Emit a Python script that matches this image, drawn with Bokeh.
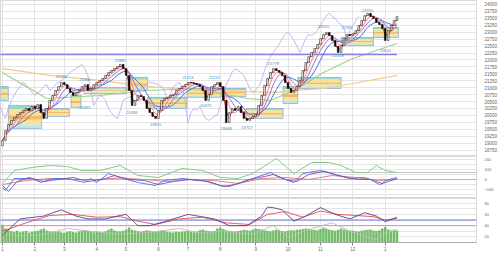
import numpy as np
import pandas as pd
from bokeh.plotting import figure
from bokeh.layouts import column
from bokeh.models import Range1d, FixedTicker, ColumnDataSource
from bokeh.embed import file_html
from bokeh.resources import INLINE
from bokeh.core.properties import value

# ---------------- data ----------------
month_labels = ["1", "2", "3", "4", "5", "6", "7", "8", "9", "10", "11", "12", "1"]
month_pos = [0, 11, 21, 32, 42, 53, 63, 74, 86, 97, 108, 119, 130]

close = [19090, 19450, 19670, 19820, 19920, 20030, 20100, 20180, 20250, 20170,
         20320, 20250, 20390, 20100, 19890, 20250, 20540, 20720, 20900, 21040,
         21190, 21110, 20970, 20830, 20720, 20820, 20900, 21040, 21110, 20900,
         20970, 21110, 21190, 21260, 21330, 21440, 21550, 21620, 21690, 21760,
         21840, 21690, 21440, 20900, 20360, 20540, 20720, 20680, 20540, 20250,
         20100, 19960, 19890, 20180, 20540, 20610, 20650, 20720, 20750, 20900,
         20970, 21040, 21110, 21190, 21180, 21150, 21110, 21040, 20900, 20540,
         20750, 21040, 21110, 21190, 21040, 20540, 19740, 20100, 20250, 20180,
         20320, 20100, 19890, 19820, 19890, 19960, 20030, 20360, 20720, 21080,
         21330, 21550, 21690, 21620, 21550, 21440, 21190, 20970, 20830, 20900,
         21040, 21260, 21620, 21910, 22120, 22270, 22410, 22560, 22770, 22920,
         22990, 22880, 22700, 22490, 22270, 22520, 22770, 22920, 22880, 22950,
         23060, 23240, 23420, 23600, 23680, 23570, 23500, 23350, 23280, 23130,
         22700, 23060, 23240, 23420, 23570]
first_open = 18900

volume = [190, 150, 130, 120, 115, 125, 110, 118, 122, 108, 115, 120, 125, 140, 150, 128, 120, 115, 112, 118,
          110, 105, 115, 120, 112, 108, 118, 125, 130, 122, 115, 110, 118, 112, 108, 120, 135, 150, 128, 120,
          118, 125, 140, 160, 135, 128, 120, 115, 122, 130, 125, 118, 112, 120, 128, 122, 115, 110, 108, 115,
          112, 118, 120, 125, 115, 110, 118, 130, 140, 128, 122, 118, 125, 150, 160, 145, 130, 125, 120, 118,
          122, 128, 135, 130, 125, 140, 150, 145, 138, 130, 125, 120, 128, 135, 130, 122, 118, 125, 130, 128,
          135, 140, 145, 150, 148, 140, 135, 130, 145, 160, 150, 140, 130, 125, 135, 150, 140, 132, 128, 125,
          120, 118, 125, 130, 135, 140, 128, 122, 130, 150, 165, 140, 130, 135, 128]

# long moving averages
ma_long_x = [0, 16, 33, 49, 66, 83, 93, 99, 109, 119, 134]
ma_long = [21690, 21440, 21260, 21040, 20930, 20860, 20830, 20900, 20970, 21150, 21440]
ma_mid_x = [0, 15, 33, 49, 66, 83, 91, 99, 109, 119, 134]
ma_mid = [21550, 20610, 20720, 20900, 20970, 20610, 20540, 20900, 21550, 22050, 22590]

# price-zone boxes
box_x0 = [-0.7, 2, 14.3, 23.3, 27.7, 42, 49.3, 62.7, 74.3, 82.7, 95.3, 100.3, 115, 126]
box_x1 = [2, 13.3, 22.7, 26.7, 42, 49.3, 62.7, 74.3, 82.7, 95.3, 100.3, 115, 126, 134.5]
box_top = [21040, 20360, 20250, 20720, 21000, 21370, 20650, 20970, 20970, 20250, 21040, 21370, 22810, 23170]
box_bot = [20540, 19530, 19960, 20280, 20790, 20900, 20250, 20650, 20680, 19890, 20430, 20970, 22520, 22810]

resist_level = 22196

ann_x = [20, 28, 28, 40, 44, 52, 63, 69, 72, 76, 83, 92, 109, 114, 117, 124, 130]
ann_y = [21400, 21290, 20280, 21980, 20100, 19670, 21370, 20360, 21370, 19530, 19560, 21870,
         23210, 22160, 23170, 23790, 22340]
ann_text = ["21286", "21160", "20395", "21885", "20284", "19815", "21254", "20470", "21212",
            "19668", "19757", "21778", "23055", "22208", "22983", "23705", "22650"]

# panel 2
p2_green_x = [0, 4, 10, 16, 22, 27, 33, 40, 46, 53, 61, 68, 74, 80, 85, 93, 99, 105, 111, 115, 120, 124, 127, 130, 134]
p2_green = [-40, 90, 120, 140, 130, 90, 90, 140, 40, 20, 110, 90, 20, 10, 60, 210, 60, 170, 170, 140, 70, 70, 140, 90, 70]
p2_blue_x = [0, 1, 4, 10, 13, 17, 22, 28, 30, 32, 36, 40, 46, 52, 55, 61, 68, 74, 77, 81, 85, 88, 91, 93, 97, 99,
             102, 108, 111, 114, 118, 123, 126, 129, 130, 134]
p2_blue = [-80, -110, 10, 10, -30, 10, 10, -30, 10, -30, 60, 20, -30, -60, -10, 10, -10, -60, -70, -30,
           10, 40, 70, 40, -10, -30, 60, 90, 70, 40, 10, 20, -10, -40, -10, 20]
p2_purple_x = [0, 2, 5, 9, 14, 19, 24, 29, 34, 38, 43, 48, 53, 58, 63, 70, 75, 79, 84, 89, 92, 96, 100, 104,
               109, 113, 117, 121, 125, 128, 131, 134]
p2_purple = [-60, -120, -20, 20, -20, 0, 20, -20, 0, 40, 0, -10, -50, -20, 0, -20, -70, -50, 0, 30,
             50, 0, -20, 50, 80, 50, 20, 0, 0, -50, -20, 10]
p2_red_x = [0, 8, 16, 24, 32, 40, 48, 56, 64, 72, 80, 88, 96, 104, 112, 120, 128, 134]
p2_red = [-50, -10, 10, 0, 0, 15, 0, -20, 0, -10, -40, 10, 20, 0, 40, 20, -10, 0]

# panel 3
p3_x = [0, 6, 14, 20, 25, 29, 35, 39, 42, 46, 50, 55, 63, 72, 77, 83, 88, 90, 92, 95, 99, 103, 108, 111,
        113, 118, 123, 127, 130, 134]
p3_purple = [23, 52, 57, 68, 57, 52, 52, 57, 60, 40, 40, 47, 60, 52, 40, 40, 57, 73, 72, 68,
             48, 57, 72, 65, 60, 52, 63, 57, 47, 55]
p3_red_x = [0, 8, 16, 24, 32, 40, 46, 52, 60, 68, 76, 84, 90, 96, 102, 108, 114, 120, 126, 130, 134]
p3_red = [30, 45, 58, 60, 55, 56, 48, 42, 52, 55, 45, 42, 60, 65, 55, 66, 60, 58, 56, 50, 53]
p3_grey_x = [0, 4, 13, 22, 30, 40, 50, 60, 67, 75, 85, 92, 97, 105, 112, 118, 124, 127, 130, 134]
p3_grey = [30, 22, 23, 35, 30, 25, 28, 35, 27, 30, 25, 40, 20, 35, 45, 30, 20, 15, 27, 33]

# ---------------- derived ----------------
N = len(close)
idx = np.arange(N)
cl = np.array(close, dtype=float)
op = np.array([first_open] + close[:-1], dtype=float)
s = pd.Series(cl)
ma_a = s.rolling(2, min_periods=1).mean()
ma_b = s.rolling(4, min_periods=1).mean()
ma_c = s.rolling(6, min_periods=1).mean()
ma_d = s.rolling(9, min_periods=1).mean()

up = cl >= op
src_up = ColumnDataSource(dict(x=idx[up], top=np.maximum(op, cl)[up], bottom=np.minimum(op, cl)[up]))
src_dn = ColumnDataSource(dict(x=idx[~up], top=np.maximum(op, cl)[~up], bottom=np.minimum(op, cl)[~up]))

FONT = "Liberation Sans"
GRID = "#e4e4e4"

xr = Range1d(-0.667, 161)


def style(p, ticks, fsize="4.5px"):
    p.outline_line_color = "#d8d8d8"
    p.background_fill_color = "white"
    p.xgrid.ticker = FixedTicker(ticks=month_pos)
    p.xgrid.grid_line_color = GRID
    p.ygrid.grid_line_color = GRID
    for ax in p.yaxis:
        ax.ticker = FixedTicker(ticks=ticks)
        ax.axis_line_color = None
        ax.major_tick_line_color = None
        ax.minor_tick_line_color = None
        ax.major_label_text_font_size = fsize
        ax.major_label_text_color = "#666666"
        ax.major_label_text_font = FONT
        ax.major_label_standoff = 2


common = dict(width=500, output_backend="svg", toolbar_location=None,
              min_border_left=0, min_border_right=16, min_border_top=0, min_border_bottom=0,
              x_range=xr, y_axis_location="right")

# ---------------- main panel ----------------
p1 = figure(height=156, y_range=Range1d(18517, 24144), x_axis_location=None, **common)
style(p1, list(range(18750, 24001, 250)))

stripe_frac = [0.0, 0.18, 0.45, 0.62, 0.82, 1.0]
stripe_col = ["#8ed3c3", "#f8df86", "#f4b15c", "#f8df86", "#bfe5d9"]
bt = np.array(box_top, dtype=float)
bb = np.array(box_bot, dtype=float)
for k in range(5):
    t = bt - (bt - bb) * stripe_frac[k]
    b = bt - (bt - bb) * stripe_frac[k + 1]
    p1.quad(left=box_x0, right=box_x1, top=t, bottom=b, fill_color=stripe_col[k], line_color=None, fill_alpha=0.9)
p1.quad(left=box_x0, right=box_x1, top=box_top, bottom=box_bot, fill_color=None,
        line_color="#7fa8d8", line_width=0.7)

p1.line(ma_long_x, ma_long, line_color="#f2c98a", line_width=1.2)
p1.line(ma_mid_x, ma_mid, line_color="#9fd08a", line_width=1.1)
p1.line(idx - 13, cl, line_color="#b9b0f0", line_width=0.9)
p1.line([-1, N - 1], [resist_level, resist_level], line_color="#8f7fe0", line_width=1.3)
p1.line(idx, ma_d, line_color="#4f6fe0", line_width=1.0)
p1.line(idx, ma_c, line_color="#9b6fd6", line_width=1.0)
p1.line(idx, ma_b, line_color="#f08a8a", line_width=1.0)
p1.line(idx, ma_a, line_color="#e0302c", line_width=1.0)

p1.vbar(x="x", top="top", bottom="bottom", width=0.55, source=src_up,
        fill_color="white", line_color="black", line_width=0.5)
p1.vbar(x="x", top="top", bottom="bottom", width=0.55, source=src_dn,
        fill_color="black", line_color="black", line_width=0.5)

p1.text(x=ann_x, y=ann_y, text=ann_text, text_font_size="4px", text_color="#3a8fb7",
        text_align="center", text_baseline="middle", text_font=value(FONT))

# ---------------- panel 2 ----------------
p2 = figure(height=42, y_range=Range1d(-190, 230), x_axis_location=None, **common)
style(p2, [-100, 0, 100, 200], "4px")
p2.ygrid.ticker = FixedTicker(ticks=[-150, -100, -50, 0, 50, 100, 150, 200])
p2.line([-1, 161], [70, 70], line_color="#b8b8b8", line_width=0.8)
p2.line([-1, 161], [0, 0], line_color="#f3a0a0", line_width=1.0)
p2.line(p2_green_x, p2_green, line_color="#86c986", line_width=1.0)
p2.line(p2_red_x, p2_red, line_color="#e57373", line_width=0.9)
p2.line(p2_blue_x, p2_blue, line_color="#4a6fe3", line_width=0.9)
p2.line(p2_purple_x, p2_purple, line_color="#7b4fb5", line_width=0.9)

# ---------------- panel 3 ----------------
p3 = figure(height=55, y_range=Range1d(10, 88.3), **common)
p3.extra_y_ranges = {"vol": Range1d(0, 470)}
style(p3, [20, 40, 60, 80], "4px")
p3.ygrid.ticker = FixedTicker(ticks=[20, 30, 40, 50, 60, 70, 80])
p3.vbar(x=idx, top=volume, bottom=0, width=0.85, y_range_name="vol",
        fill_color="#74bd68", line_color=None)
p3.line([-1, 161], [50, 50], line_color="#6677ee", line_width=1.0)
p3.line([-1, 161], [40, 40], line_color="#f08a8a", line_width=1.0)
p3.line(p3_grey_x, p3_grey, line_color="#bdbdbd", line_width=0.9)
p3.line(p3_red_x, p3_red, line_color="#e05050", line_width=0.9)
p3.line(p3_x, p3_purple, line_color="#5b3f8c", line_width=0.9)

xa = p3.xaxis[0]
xa.ticker = FixedTicker(ticks=month_pos)
xa.major_label_overrides = {pos: lab for pos, lab in zip(month_pos, month_labels)}
xa.major_label_text_font_size = "4.5px"
xa.major_label_text_font = FONT
xa.major_label_text_color = "#666666"
xa.major_label_standoff = 1
xa.major_tick_out = 3
xa.major_tick_in = 0
xa.minor_tick_line_color = None
xa.axis_line_color = "#aaaaaa"
xa.major_tick_line_color = "#888888"

layout = column(p1, p2, p3, spacing=0)
open("out.html", "w").write(file_html(layout, INLINE))
